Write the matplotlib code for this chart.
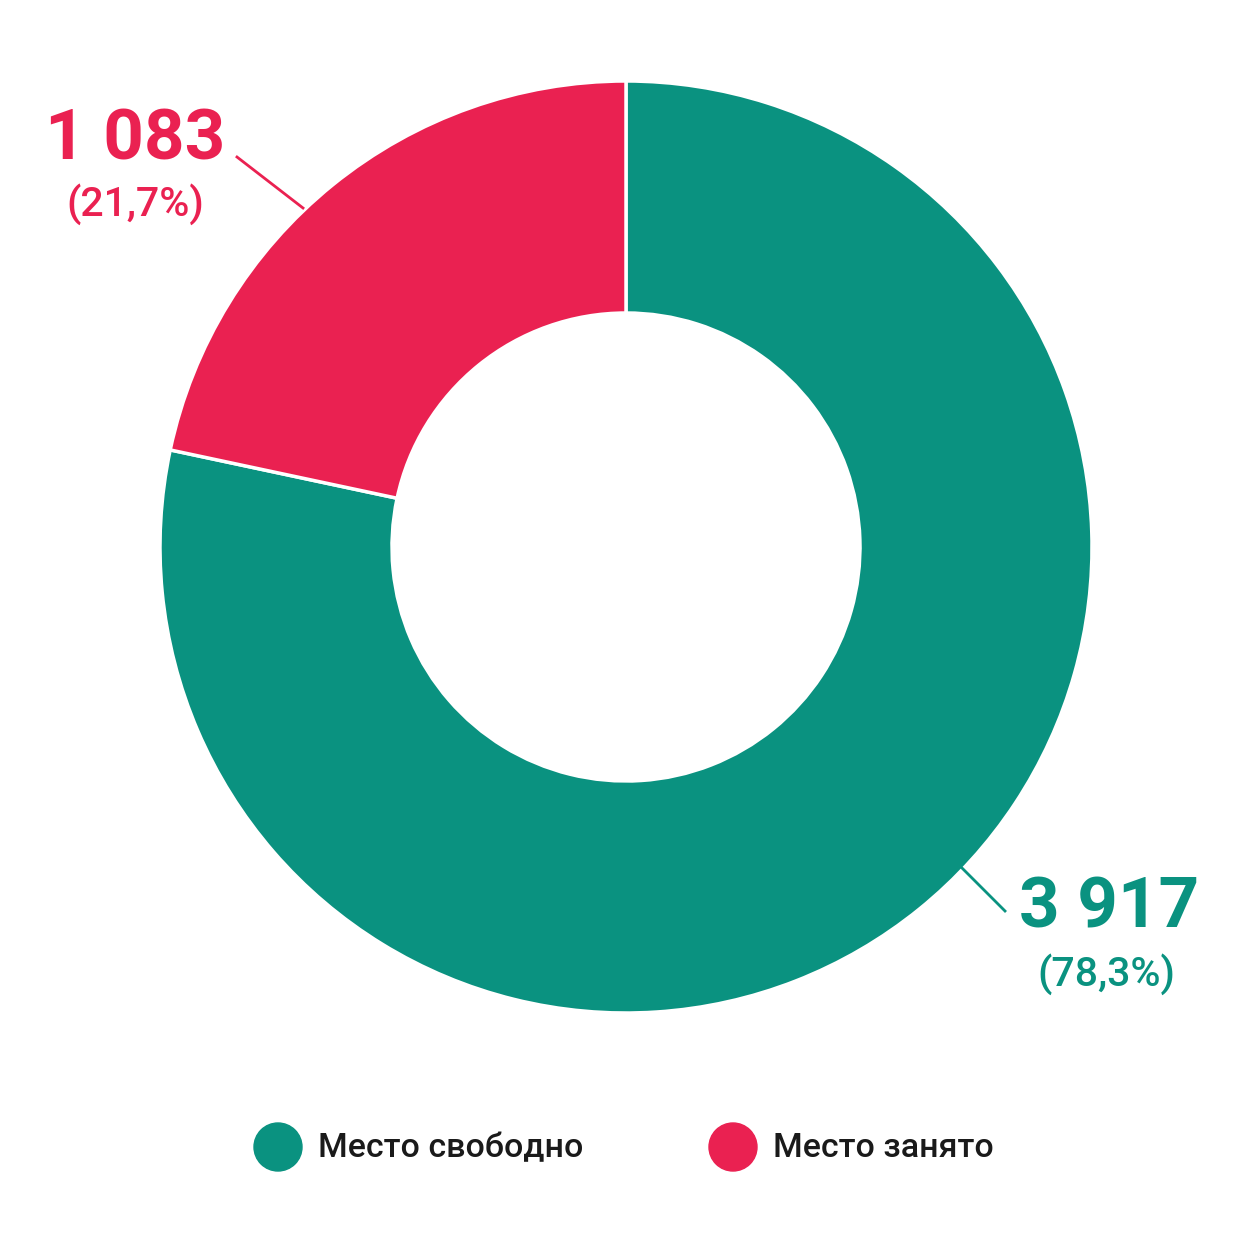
import matplotlib.pyplot as plt

plt.rcParams['font.family'] = ['Roboto', 'DejaVu Sans']

labels = ['Место свободно', 'Место занято']
values = [3917, 1083]
value_labels = ['3 917', '1 083']
pct_labels = ['(78,3%)', '(21,7%)']
colors = ['#0a9280', '#ea2151']

W = 1254
fig = plt.figure(figsize=(12.54, 12.54), dpi=100)
ax = fig.add_axes([0, 0, 1, 1])

# donut
cx, cy, r = 626, W - 547, 466
ax.pie(values, colors=colors, startangle=90, counterclock=False,
       center=(cx, cy), radius=r, frame=True,
       wedgeprops=dict(width=r - 234, edgecolor='white', linewidth=2.5))
ax.set_xlim(0, W)
ax.set_ylim(0, W)
ax.set_aspect('equal')
ax.axis('off')

# leader lines
ax.plot([962, 1005], [W - 868, W - 911], color=colors[0], lw=2)
ax.plot([303, 237], [W - 208, W - 157], color=colors[1], lw=2)

# value labels
ax.text(1109, W - 908, value_labels[0], color=colors[0], fontsize=51,
        fontweight='bold', ha='center', va='center')
ax.text(1106, W - 974, pct_labels[0], color=colors[0], fontsize=29.5,
        fontweight='medium', ha='center', va='center')
ax.text(135, W - 140, value_labels[1], color=colors[1], fontsize=51,
        fontweight='bold', ha='center', va='center')
ax.text(135, W - 204, pct_labels[1], color=colors[1], fontsize=29.5,
        fontweight='medium', ha='center', va='center')

# legend
for x0, lab, col in [(278, labels[0], colors[0]), (733, labels[1], colors[1])]:
    ax.add_patch(plt.Circle((x0, W - 1147), 24, color=col))
    ax.text(x0 + 40, W - 1148, lab, color='#1a1a1a', fontsize=24.5,
            fontweight='medium', ha='left', va='center')

fig.savefig('out.png', dpi=100)
